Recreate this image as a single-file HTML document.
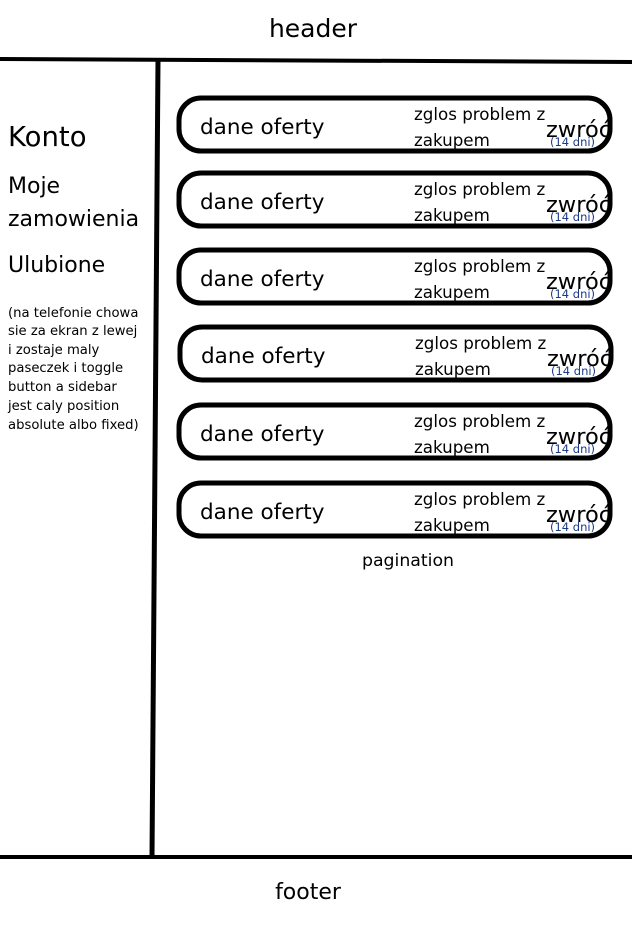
<!DOCTYPE html>
<html><head><style>
body{margin:0;background:#fff;}
svg{display:block}
text{font-family:"DejaVu Sans","Liberation Sans",sans-serif;fill:#000}
</style></head><body>
<svg width="632" height="925" viewBox="0 0 632 925">
<defs>
<g id="row">
<rect x="179" y="98" width="431" height="53" rx="22" fill="none" stroke="#000" stroke-width="5"/>
<text x="200" y="134" font-size="21.5">dane oferty</text>
<text x="414" y="120" font-size="16.7">zglos problem z</text>
<text x="414" y="146" font-size="16.7">zakupem</text>
<text x="546" y="137" font-size="22.5">zwróć</text>
<text x="550" y="146" font-size="11.5" style="fill:#1a3a8a">(14 dni)</text>
</g>
</defs>
<text x="313" y="37" font-size="25" text-anchor="middle">header</text>
<line x1="0" y1="59" x2="632" y2="62" stroke="#000" stroke-width="4"/>
<line x1="158" y1="60" x2="152" y2="857" stroke="#000" stroke-width="5"/>
<line x1="0" y1="857" x2="632" y2="857" stroke="#000" stroke-width="4"/>
<text x="308" y="899" font-size="22" text-anchor="middle">footer</text>
<text x="8" y="146" font-size="27.5">Konto</text>
<text x="8" y="193" font-size="22">Moje</text>
<text x="8" y="226" font-size="22">zamowienia</text>
<text x="8" y="272" font-size="22">Ulubione</text>
<g font-size="13.2">
<text x="8" y="317">(na telefonie chowa</text>
<text x="8" y="335">sie za ekran z lewej</text>
<text x="8" y="354">i zostaje maly</text>
<text x="8" y="372">paseczek i toggle</text>
<text x="8" y="391">button a sidebar</text>
<text x="8" y="410">jest caly position</text>
<text x="8" y="429">absolute albo fixed)</text>
</g>
<use href="#row"/>
<use href="#row" y="75"/>
<use href="#row" y="152"/>
<use href="#row" y="229" x="1"/>
<use href="#row" y="307"/>
<use href="#row" y="385"/>
<text x="408" y="566" font-size="17.3" text-anchor="middle">pagination</text>
</svg>
</body></html>
